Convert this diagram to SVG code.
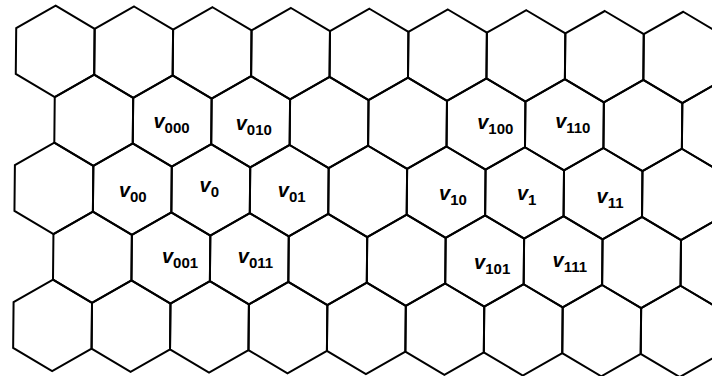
<svg xmlns="http://www.w3.org/2000/svg" width="712" height="376" viewBox="0 0 712 376">
<style>
.hex{fill:none;stroke:#000;stroke-width:2;stroke-linejoin:miter}
.lbl{font-family:"Liberation Sans",Arial,sans-serif;font-size:20px;font-weight:bold;font-style:italic;fill:#000;text-anchor:middle}
.sub{font-size:15px;font-style:normal}
</style>
<defs>
<polygon id="hex" class="hex" points="0,-45.65 39.22,-22.85 39.22,22.85 0,45.65 -39.22,22.85 -39.22,-22.85"/>
</defs>
<rect width="712" height="376" fill="#fff"/>
<g id="connectors"/>
<g id="nodes">
<g id="h0_0"><use href="#hex" transform="rotate(0.55) translate(55.7,50.85)"/></g>
<g id="h0_1"><use href="#hex" transform="rotate(0.55) translate(134.15,50.85)"/></g>
<g id="h0_2"><use href="#hex" transform="rotate(0.55) translate(212.6,50.85)"/></g>
<g id="h0_3"><use href="#hex" transform="rotate(0.55) translate(291.05,50.85)"/></g>
<g id="h0_4"><use href="#hex" transform="rotate(0.55) translate(369.5,50.85)"/></g>
<g id="h0_5"><use href="#hex" transform="rotate(0.55) translate(447.95,50.85)"/></g>
<g id="h0_6"><use href="#hex" transform="rotate(0.55) translate(526.4,50.85)"/></g>
<g id="h0_7"><use href="#hex" transform="rotate(0.55) translate(604.85,50.85)"/></g>
<g id="h0_8"><use href="#hex" transform="rotate(0.55) translate(683.3,50.85)"/></g>
<g id="h1_0"><use href="#hex" transform="rotate(0.55) translate(94.9,119.35)"/></g>
<g id="v000"><use href="#hex" transform="rotate(0.55) translate(173.35,119.35)"/><text class="lbl" x="171.5" y="127.5">v<tspan class="sub" dy="5">000</tspan></text></g>
<g id="v010"><use href="#hex" transform="rotate(0.55) translate(251.8,119.35)"/><text class="lbl" x="253.8" y="130">v<tspan class="sub" dy="5">010</tspan></text></g>
<g id="h1_3"><use href="#hex" transform="rotate(0.55) translate(330.25,119.35)"/></g>
<g id="h1_4"><use href="#hex" transform="rotate(0.55) translate(408.7,119.35)"/></g>
<g id="v100"><use href="#hex" transform="rotate(0.55) translate(487.15,119.35)"/><text class="lbl" x="495.3" y="129">v<tspan class="sub" dy="5">100</tspan></text></g>
<g id="v110"><use href="#hex" transform="rotate(0.55) translate(565.6,119.35)"/><text class="lbl" x="572.8" y="128">v<tspan class="sub" dy="5">110</tspan></text></g>
<g id="h1_7"><use href="#hex" transform="rotate(0.55) translate(644.05,119.35)"/></g>
<g id="h1_8"><use href="#hex" transform="rotate(0.55) translate(722.5,119.35)"/></g>
<g id="h2_0"><use href="#hex" transform="rotate(0.55) translate(55.7,187.85)"/></g>
<g id="v00"><use href="#hex" transform="rotate(0.55) translate(134.15,187.85)"/><text class="lbl" x="132.8" y="196.7">v<tspan class="sub" dy="5">00</tspan></text></g>
<g id="v0"><use href="#hex" transform="rotate(0.55) translate(212.6,187.85)"/><text class="lbl" x="209.3" y="191.7">v<tspan class="sub" dy="5">0</tspan></text></g>
<g id="v01"><use href="#hex" transform="rotate(0.55) translate(291.05,187.85)"/><text class="lbl" x="291.7" y="196.7">v<tspan class="sub" dy="5">01</tspan></text></g>
<g id="h2_4"><use href="#hex" transform="rotate(0.55) translate(369.5,187.85)"/></g>
<g id="v10"><use href="#hex" transform="rotate(0.55) translate(447.95,187.85)"/><text class="lbl" x="453" y="200">v<tspan class="sub" dy="5">10</tspan></text></g>
<g id="v1"><use href="#hex" transform="rotate(0.55) translate(526.4,187.85)"/><text class="lbl" x="526.7" y="200">v<tspan class="sub" dy="5">1</tspan></text></g>
<g id="v11"><use href="#hex" transform="rotate(0.55) translate(604.85,187.85)"/><text class="lbl" x="610" y="203.3">v<tspan class="sub" dy="5">11</tspan></text></g>
<g id="h2_8"><use href="#hex" transform="rotate(0.55) translate(683.3,187.85)"/></g>
<g id="h3_0"><use href="#hex" transform="rotate(0.55) translate(94.9,256.35)"/></g>
<g id="v001"><use href="#hex" transform="rotate(0.55) translate(173.35,256.35)"/><text class="lbl" x="180" y="263.3">v<tspan class="sub" dy="5">001</tspan></text></g>
<g id="v011"><use href="#hex" transform="rotate(0.55) translate(251.8,256.35)"/><text class="lbl" x="255.5" y="263.3">v<tspan class="sub" dy="5">011</tspan></text></g>
<g id="h3_3"><use href="#hex" transform="rotate(0.55) translate(330.25,256.35)"/></g>
<g id="h3_4"><use href="#hex" transform="rotate(0.55) translate(408.7,256.35)"/></g>
<g id="v101"><use href="#hex" transform="rotate(0.55) translate(487.15,256.35)"/><text class="lbl" x="492.2" y="269.3">v<tspan class="sub" dy="5">101</tspan></text></g>
<g id="v111"><use href="#hex" transform="rotate(0.55) translate(565.6,256.35)"/><text class="lbl" x="569.8" y="267.3">v<tspan class="sub" dy="5">111</tspan></text></g>
<g id="h3_7"><use href="#hex" transform="rotate(0.55) translate(644.05,256.35)"/></g>
<g id="h3_8"><use href="#hex" transform="rotate(0.55) translate(722.5,256.35)"/></g>
<g id="h4_0"><use href="#hex" transform="rotate(0.55) translate(55.7,324.85)"/></g>
<g id="h4_1"><use href="#hex" transform="rotate(0.55) translate(134.15,324.85)"/></g>
<g id="h4_2"><use href="#hex" transform="rotate(0.55) translate(212.6,324.85)"/></g>
<g id="h4_3"><use href="#hex" transform="rotate(0.55) translate(291.05,324.85)"/></g>
<g id="h4_4"><use href="#hex" transform="rotate(0.55) translate(369.5,324.85)"/></g>
<g id="h4_5"><use href="#hex" transform="rotate(0.55) translate(447.95,324.85)"/></g>
<g id="h4_6"><use href="#hex" transform="rotate(0.55) translate(526.4,324.85)"/></g>
<g id="h4_7"><use href="#hex" transform="rotate(0.55) translate(604.85,324.85)"/></g>
<g id="h4_8"><use href="#hex" transform="rotate(0.55) translate(683.3,324.85)"/></g>
</g>
</svg>
